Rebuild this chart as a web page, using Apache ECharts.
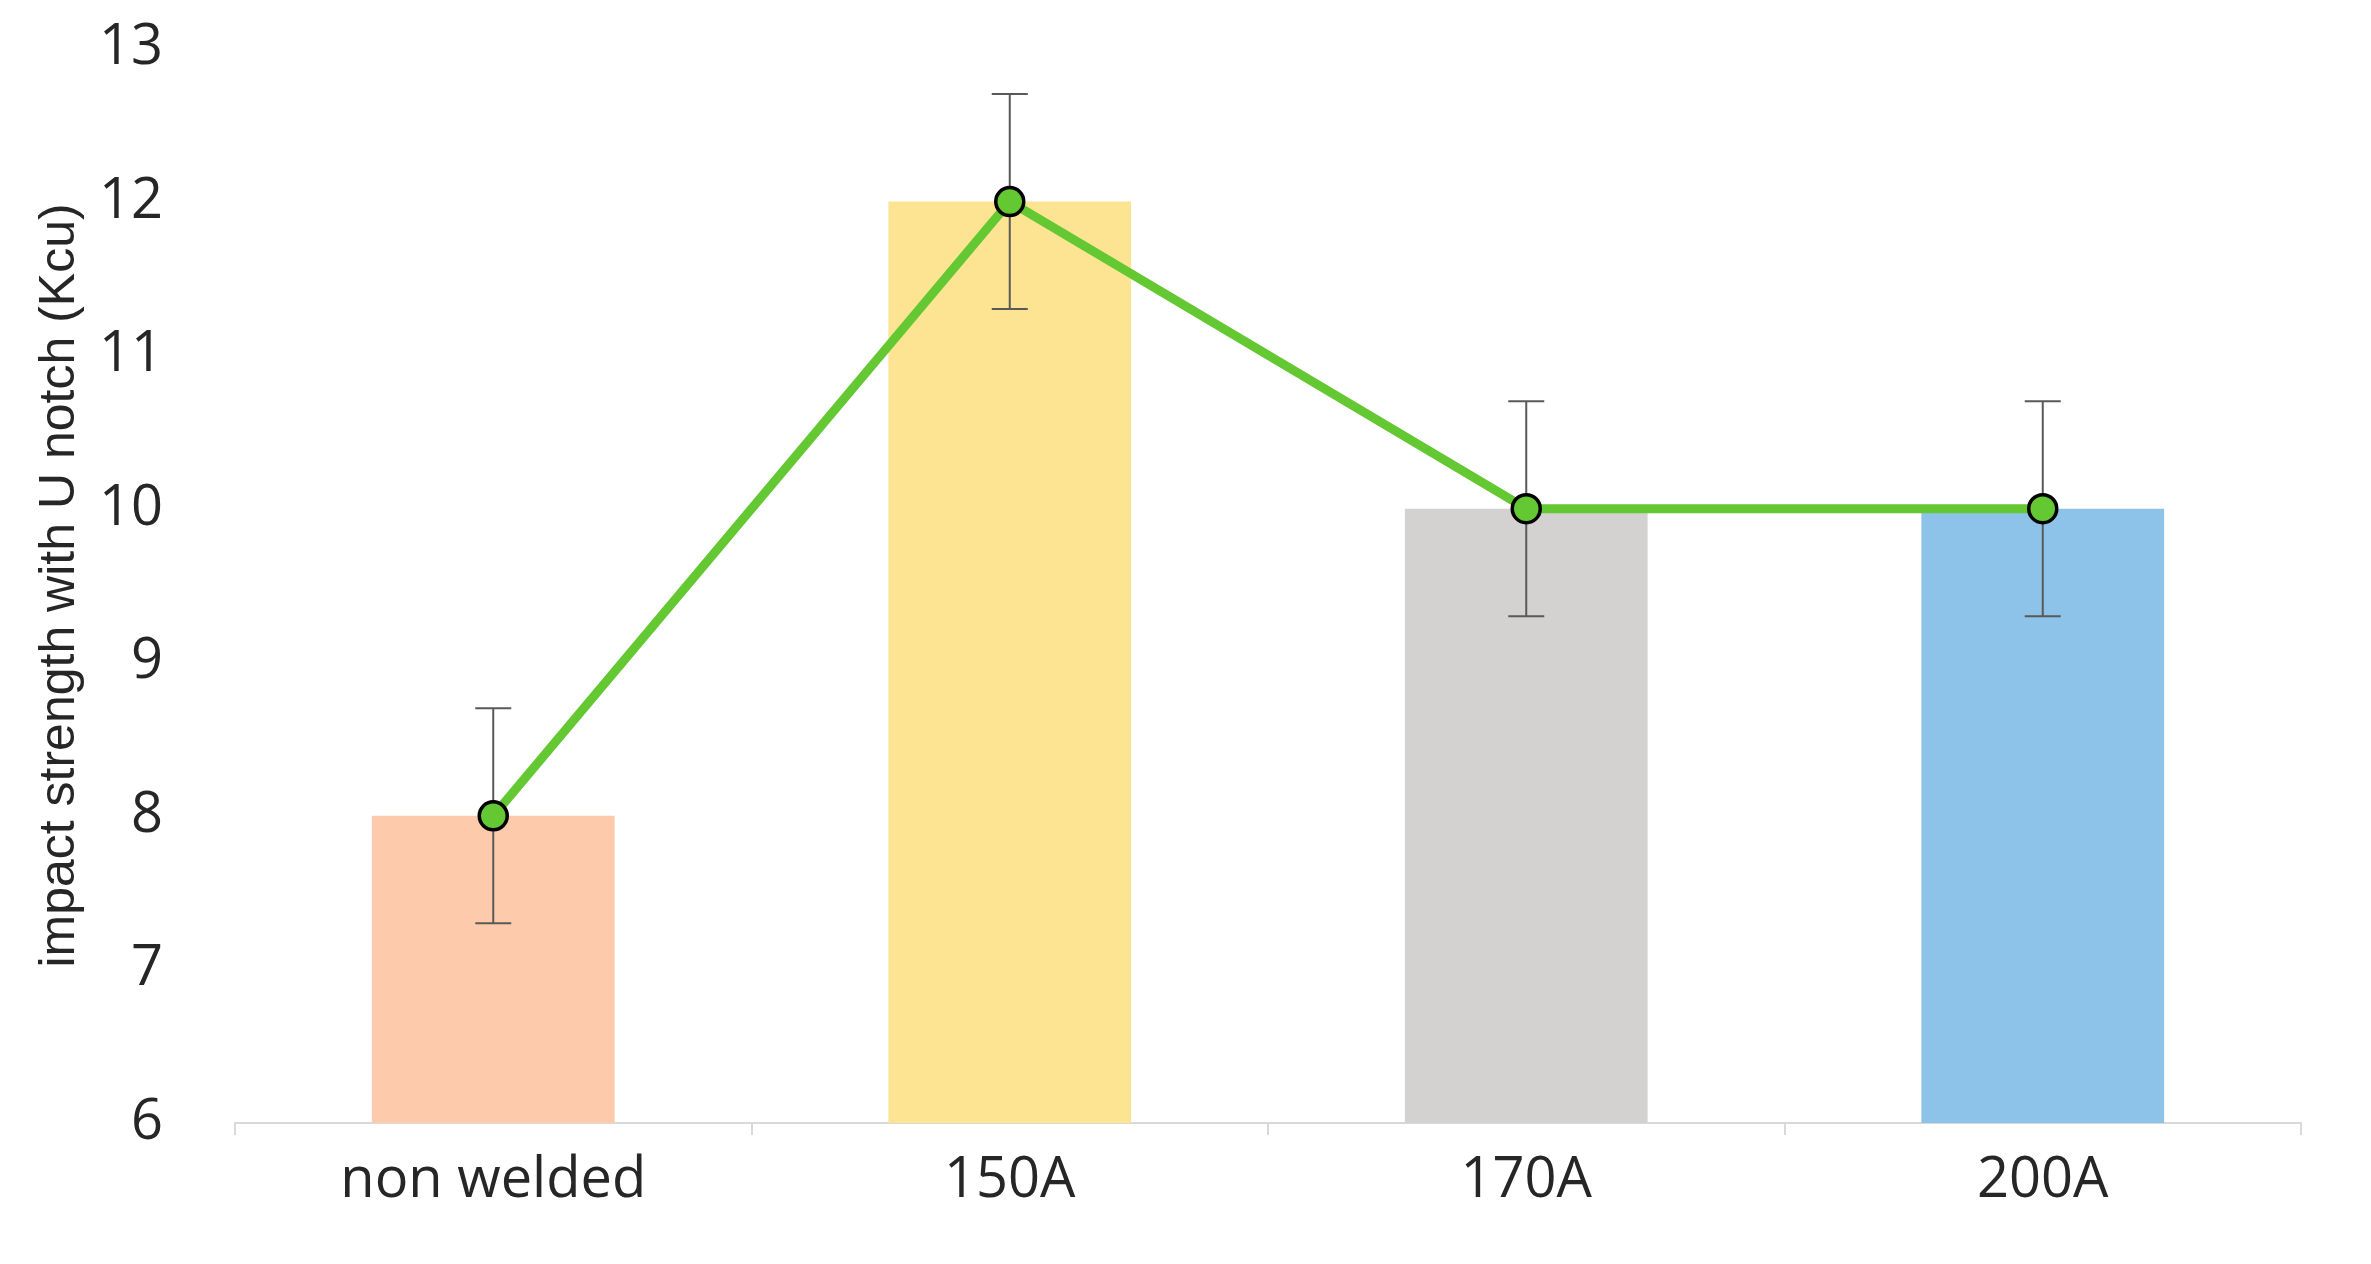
<!DOCTYPE html>
<html>
<head>
<meta charset="utf-8">
<script src="https://cdn.jsdelivr.net/npm/echarts@6/dist/echarts.min.js"></script>
<style>html,body{margin:0;background:#fff}#chart{width:2371px;height:1264px}</style>
</head>
<body>
<div id="chart"></div>
<script>
var categories = ['non welded', '150A', '170A', '200A'];
var values = [8, 12, 10, 10];
var errors = [0.7, 0.7, 0.7, 0.7];
var barColors = ['#fdcaab', '#fde493', '#d4d1d1', '#8dc3e8'];

var chart = echarts.init(document.getElementById('chart'));
var errData = values.map(function (v, i) { return [i, v - errors[i], v + errors[i]]; });

chart.setOption({
	animation: false,
	grid: { left: 235, right: 70, top: 48, bottom: 141 },
	xAxis: {
		type: 'category',
		data: categories,
		axisLine: { lineStyle: { color: '#d9d9d9', width: 2 } },
		axisTick: { show: true, length: 12, lineStyle: { color: '#d9d9d9', width: 2 } },
		axisLabel: { fontSize: 56, color: '#262626', margin: 30, fontFamily: 'Open Sans' }
	},
	yAxis: {
		type: 'value',
		min: 6, max: 13, interval: 1,
		name: 'impact strength with U notch (Kcu)',
		nameLocation: 'middle',
		nameGap: 150,
		nameTextStyle: { fontSize: 50, color: '#262626', fontFamily: 'Liberation Sans' },
		axisLine: { show: false },
		axisTick: { show: false },
		splitLine: { show: false },
		axisLabel: { fontSize: 56, color: '#262626', margin: 72, fontFamily: 'Open Sans' }
	},
	series: [
		{
			type: 'bar',
			data: values.map(function (v, i) { return { value: v, itemStyle: { color: barColors[i] } }; }),
			barWidth: '47%'
		},
		{
			type: 'custom',
			data: errData,
			z: 5,
			renderItem: function (params, api) {
				var lo = api.coord([api.value(0), api.value(1)]);
				var hi = api.coord([api.value(0), api.value(2)]);
				var w = 18;
				var st = { stroke: '#595959', lineWidth: 2 };
				return {
					type: 'group',
					children: [
						{ type: 'line', shape: { x1: lo[0], y1: lo[1], x2: hi[0], y2: hi[1] }, style: st },
						{ type: 'line', shape: { x1: lo[0] - w, y1: lo[1], x2: lo[0] + w, y2: lo[1] }, style: st },
						{ type: 'line', shape: { x1: hi[0] - w, y1: hi[1], x2: hi[0] + w, y2: hi[1] }, style: st }
					]
				};
			}
		},
		{
			type: 'line',
			data: values,
			z: 10,
			lineStyle: { color: '#63c832', width: 9 },
			symbol: 'circle',
			symbolSize: 28,
			itemStyle: { color: '#63c832', borderColor: '#000', borderWidth: 3.5 }
		}
	]
});
</script>
</body>
</html>
